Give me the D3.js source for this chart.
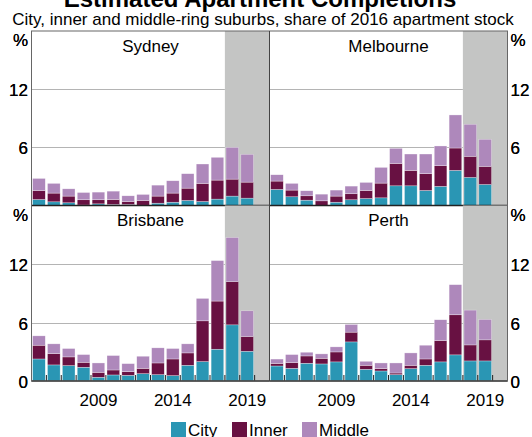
<!DOCTYPE html>
<html>
<head>
<meta charset="utf-8">
<script src="https://cdn.jsdelivr.net/npm/d3@7"></script>
<style>
  body { margin: 0; background: #fff; }
  text { font-family: Arial, "Liberation Sans", sans-serif; fill: #000; }
</style>
</head>
<body>
<script>

var width = 532,
	height = 437;

// data, % of 2016 apartment stock
var years = [2005, 2006, 2007, 2008, 2009, 2010, 2011, 2012, 2013, 2014, 2015, 2016, 2017, 2018, 2019];
var series = ["City", "Inner", "Middle"];
var cities = ["Sydney", "Melbourne", "Brisbane", "Perth"];

var sydneyCity   = [0.62, 0.38, 0.28, 0.05, 0.17, 0.10, 0.10, 0.03, 0.24, 0.34, 0.52, 0.41, 0.66, 0.97, 0.76];
var sydneyInner  = [0.93, 0.90, 0.69, 0.54, 0.42, 0.52, 0.31, 0.49, 0.73, 0.94, 1.27, 1.87, 1.96, 1.75, 1.65];
var sydneyMiddle = [1.24, 1.00, 0.75, 0.75, 0.79, 0.86, 0.59, 0.62, 1.13, 1.27, 1.49, 2.00, 2.35, 3.28, 2.87];

var melbourneCity   = [1.66, 0.90, 0.55, 0.02, 0.34, 0.59, 0.72, 0.79, 2.03, 2.03, 1.55, 1.97, 3.62, 2.90, 2.17];
var melbourneInner  = [0.86, 0.69, 0.45, 0.46, 0.63, 0.62, 0.83, 1.52, 2.31, 1.59, 1.73, 2.13, 2.31, 2.17, 1.86];
var melbourneMiddle = [0.65, 0.69, 0.52, 0.69, 0.62, 0.79, 0.83, 1.62, 1.56, 1.69, 2.03, 2.04, 3.41, 3.31, 2.80];

var brisbaneCity   = [2.26, 1.65, 1.58, 1.41, 0.38, 0.62, 0.58, 0.75, 0.65, 0.55, 1.61, 1.99, 3.26, 5.76, 3.05];
var brisbaneInner  = [1.41, 1.16, 0.89, 0.51, 0.51, 0.51, 0.38, 0.55, 1.20, 1.71, 1.27, 4.18, 4.94, 4.43, 1.51];
var brisbaneMiddle = [0.96, 1.00, 0.86, 0.79, 0.96, 1.48, 0.82, 1.24, 1.55, 1.07, 0.93, 2.30, 4.15, 4.53, 2.64];

var perthCity   = [1.54, 1.30, 1.82, 1.75, 1.96, 4.01, 1.20, 1.03, 0.65, 1.27, 1.61, 1.96, 2.68, 2.06, 2.06];
var perthInner  = [0.26, 0.59, 0.75, 0.58, 1.02, 1.00, 0.41, 0.24, 0.17, 0.34, 0.65, 2.19, 4.11, 1.64, 2.16];
var perthMiddle = [0.45, 0.82, 0.38, 0.45, 0.52, 0.79, 0.41, 0.58, 1.03, 1.27, 1.41, 2.13, 3.09, 3.57, 2.09];

var yTicks = [0, 6, 12];
var xTicks = [2009, 2014, 2019];
var forecastFrom = 2018;

var cityData = {
	Sydney: [sydneyCity, sydneyInner, sydneyMiddle],
	Melbourne: [melbourneCity, melbourneInner, melbourneMiddle],
	Brisbane: [brisbaneCity, brisbaneInner, brisbaneMiddle],
	Perth: [perthCity, perthInner, perthMiddle]
};

var color = d3.scaleOrdinal()
	.domain(series)
	.range(["#2a96b4", "#681142", "#ae88bb"]);

var svg = d3.select("body").append("svg")
	.attr("width", width)
	.attr("height", height)
	.style("display", "block");

// titles (main title is cropped at the top in the original)
svg.append("text")
	.attr("x", 260).attr("y", 7)
	.attr("text-anchor", "middle")
	.style("font-size", "24px")
	.style("font-weight", "bold")
	.text("Estimated Apartment Completions");

svg.append("text")
	.attr("x", 263).attr("y", 25)
	.attr("text-anchor", "middle")
	.style("font-size", "17px")
	.text("City, inner and middle-ring suburbs, share of 2016 apartment stock");

var plotLeft = 31.5, plotMid = 269.5, plotRight = 507.5,
	plotTop = 31, plotMidY = 205.5, plotBottom = 381;

var cols = [[plotLeft, plotMid], [plotMid, plotRight]];
var rows = [[plotTop, plotMidY], [plotMidY, plotBottom]];

cities.forEach(function(name, i) {
	var col = cols[i % 2], row = rows[Math.floor(i / 2)];

	var x = d3.scaleLinear()
		.domain([years[0] - 0.5, years[years.length - 1] + 1.5])
		.range(col);

	var y = d3.scaleLinear()
		.domain([0, 18])
		.range([row[1], row[0]]);

	var g = svg.append("g");

	// forecast shading
	g.append("rect")
		.attr("x", x(forecastFrom - 0.5))
		.attr("y", row[0])
		.attr("width", col[1] - x(forecastFrom - 0.5))
		.attr("height", row[1] - row[0])
		.style("fill", "#c4c5c4");

	// gridlines
	g.selectAll(".grid")
		.data(yTicks.filter(function(d) { return d > 0; }))
		.enter().append("line")
		.attr("x1", col[0]).attr("x2", x(forecastFrom - 0.5))
		.attr("y1", function(d) { return Math.round(y(d)) + 0.5; })
		.attr("y2", function(d) { return Math.round(y(d)) + 0.5; })
		.style("stroke", "#b4b4b4")
		.style("stroke-width", 1);

	var rowsData = years.map(function(yr, j) {
		var o = { year: yr };
		series.forEach(function(s, k) { o[s] = cityData[name][k][j]; });
		return o;
	});

	var stacked = d3.stack().keys(series)(rowsData);

	var bw = (x(1) - x(0)) * 0.85;

	g.selectAll(".layer")
		.data(stacked)
		.enter().append("g")
		.style("fill", function(d) { return color(d.key); })
		.selectAll("rect")
		.data(function(d) { return d; })
		.enter().append("rect")
		.attr("x", function(d) { return x(d.data.year) - bw / 2; })
		.attr("width", bw)
		.attr("y", function(d) { return y(d[1]); })
		.attr("height", function(d) { return y(d[0]) - y(d[1]); })
		.style("stroke", "rgba(255,255,255,0.6)")
		.style("stroke-width", 0.5);

	// zero line
	g.append("line")
		.attr("x1", col[0]).attr("x2", col[1])
		.attr("y1", y(0)).attr("y2", y(0))
		.style("stroke", "#222")
		.style("stroke-width", 1.3);

	// year ticks on the lower panels
	if (i >= 2) {
		g.selectAll(".tick")
			.data(years.concat([years[years.length - 1] + 1]).slice(1))
			.enter().append("line")
			.attr("x1", function(d) { return x(d - 0.5); })
			.attr("x2", function(d) { return x(d - 0.5); })
			.attr("y1", y(0)).attr("y2", y(0) - 6)
			.style("stroke", "#222")
			.style("stroke-width", 1);

		g.selectAll(".xlab")
			.data(xTicks)
			.enter().append("text")
			.attr("x", function(d) { return x(d); })
			.attr("y", 406)
			.attr("text-anchor", "middle")
			.style("font-size", "17px")
			.text(function(d) { return d; });
	}

	g.append("text")
		.attr("x", (col[0] + col[1]) / 2)
		.attr("y", row[0] + 20.5)
		.attr("text-anchor", "middle")
		.style("font-size", "17px")
		.text(name);

	// y labels on both sides
	var labs = yTicks.slice();
	if (i < 2) labs = labs.filter(function(d) { return d > 0; });
	[[28, "end"], [510.5, "start"]].forEach(function(side) {
		g.selectAll(".ylab" + side[1])
			.data(labs)
			.enter().append("text")
			.attr("x", side[0])
			.attr("y", function(d) { return y(d) + 7; })
			.attr("text-anchor", side[1])
			.style("font-size", "17px")
			.text(function(d) { return d; });
		g.append("text")
			.attr("x", side[0])
			.attr("y", row[0] + 15)
			.attr("text-anchor", side[1])
			.style("font-size", "17px")
			.text("%");
	});
});

// frame
svg.append("rect")
	.attr("x", plotLeft).attr("y", plotTop)
	.attr("width", plotRight - plotLeft).attr("height", plotBottom - plotTop)
	.style("fill", "none")
	.style("stroke", "#666")
	.style("stroke-width", 1);

svg.append("line")
	.attr("x1", plotMid).attr("x2", plotMid)
	.attr("y1", plotTop).attr("y2", plotBottom)
	.style("stroke", "#444")
	.style("stroke-width", 1);

// legend
var legend = svg.append("g");
var legendX = [171, 232, 302];
series.forEach(function(s, i) {
	legend.append("rect")
		.attr("x", legendX[i]).attr("y", 422)
		.attr("width", 15).attr("height", 15)
		.style("fill", color(s));
	legend.append("text")
		.attr("x", legendX[i] + 17).attr("y", 436)
		.style("font-size", "17px")
		.text(s);
});

</script>
</body>
</html>
